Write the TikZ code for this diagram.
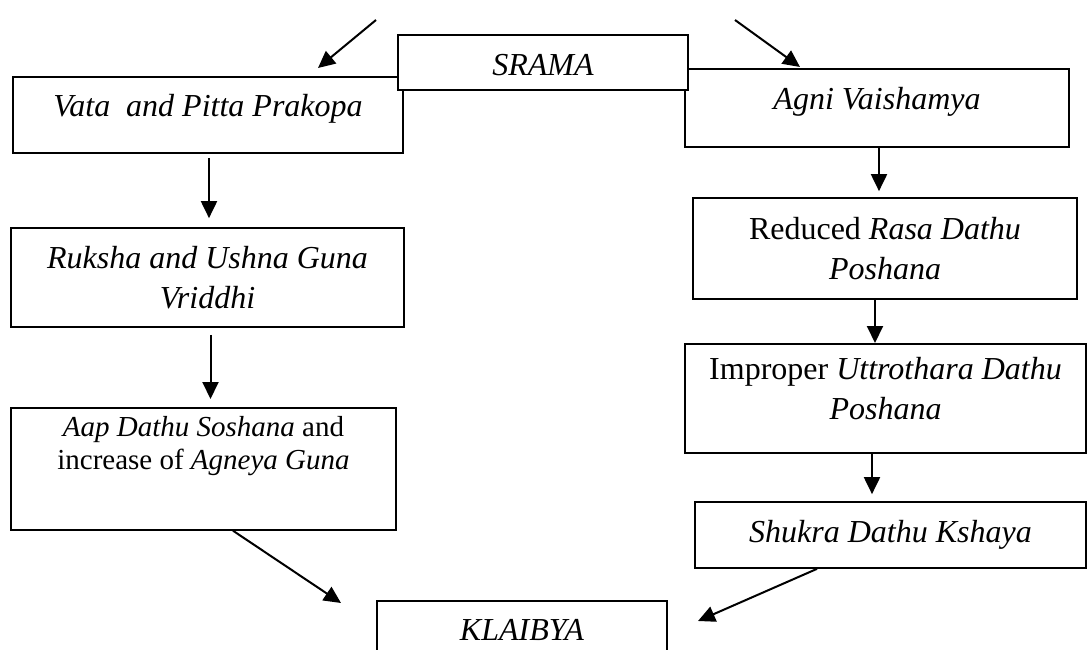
\documentclass[tikz,border=0pt]{standalone}
\usepackage{fontspec}
\setmainfont{Liberation Serif}
\usepackage{tikz}
\usetikzlibrary{arrows,arrows.meta,positioning}

\begin{document}
\begin{tikzpicture}[x=1pt,y=-1pt,
    box/.style={draw, line width=1.7pt, rectangle, align=center, inner sep=0pt,
        font=\fontsize{32}{40}\selectfont},
    arr/.style={line width=2pt, -{Triangle[length=17pt,width=16pt]}}]
    \useasboundingbox (0,0) rectangle (1088,650);
    \node[box, anchor=base, minimum width=390pt, text height=40pt, text depth=36pt] (vata) at (208,117)
        {\textit{Vata\ \ and Pitta Prakopa}};
    \node[box, anchor=base, minimum width=384pt, text height=41pt, text depth=37pt] (agni) at (877,110)
        {\textit{Agni Vaishamya}};
    \node[box, anchor=base, fill=white, minimum width=290pt, text height=41pt, text depth=14pt] (srama) at (543,76)
        {\textit{SRAMA}};
    \node[box, minimum width=393pt, minimum height=99pt] (ruksha) at (207.5,277.5)
        {\textit{Ruksha and Ushna Guna}\\\textit{Vriddhi}};
    \node[box, anchor=north, minimum width=385pt, font=\fontsize{29}{33}\selectfont] (aap) at (203.5,407)
        {\rule{0pt}{29pt}\textit{Aap Dathu Soshana} and\\increase of \textit{Agneya Guna}\rule[-60pt]{0pt}{60pt}};
    \node[box, minimum width=384pt, minimum height=101pt] (reduced) at (885,248.5)
        {Reduced \textit{Rasa Dathu}\\\textit{Poshana}};
    \node[box, anchor=north, minimum width=401pt] (improper) at (885.5,343)
        {\rule{0pt}{36pt}Improper \textit{Uttrothara Dathu}\\\textit{Poshana}\rule[-33pt]{0pt}{33pt}};
    \node[box, anchor=base, minimum width=391pt, text height=40pt, text depth=26pt] (shukra) at (890.5,542)
        {\textit{Shukra Dathu Kshaya}};
    \node[box, anchor=base, minimum width=290pt, text height=39pt, text depth=30pt] (klaibya) at (522,640)
        {\textit{KLAIBYA}};
    \coordinate (srcL) at (376,20);
    \coordinate (tipL) at (318,68);
    \coordinate (srcR) at (735,20);
    \coordinate (tipR) at (800,67);
    \coordinate (tipK1) at (341,603);
    \coordinate (tipK2) at (698,621);
    \draw[arr] (srcL) -- (tipL);
    \draw[arr] (srcR) -- (tipR);
    \draw[arr, shorten <=4pt, shorten >=9pt] ([xshift=1pt]vata.south) -- ([xshift=1pt]vata.south |- ruksha.north);
    \draw[arr, shorten <=7pt, shorten >=8pt] ([xshift=3pt]ruksha.south) -- ([xshift=3pt]ruksha.south |- aap.north);
    \draw[arr, shorten >=6pt] ([xshift=2pt]agni.south) -- ([xshift=2pt]agni.south |- reduced.north);
    \draw[arr] ([xshift=-10pt]reduced.south) -- ([xshift=-10pt]reduced.south |- improper.north);
    \draw[arr, shorten >=7pt] ([xshift=-13.5pt]improper.south) -- ([xshift=-13.5pt]improper.south |- shukra.north);
    \draw[arr] ([xshift=29.5pt]aap.south) -- (tipK1);
    \draw[arr] ([xshift=-73.5pt]shukra.south) -- (tipK2);
\end{tikzpicture}
\end{document}
